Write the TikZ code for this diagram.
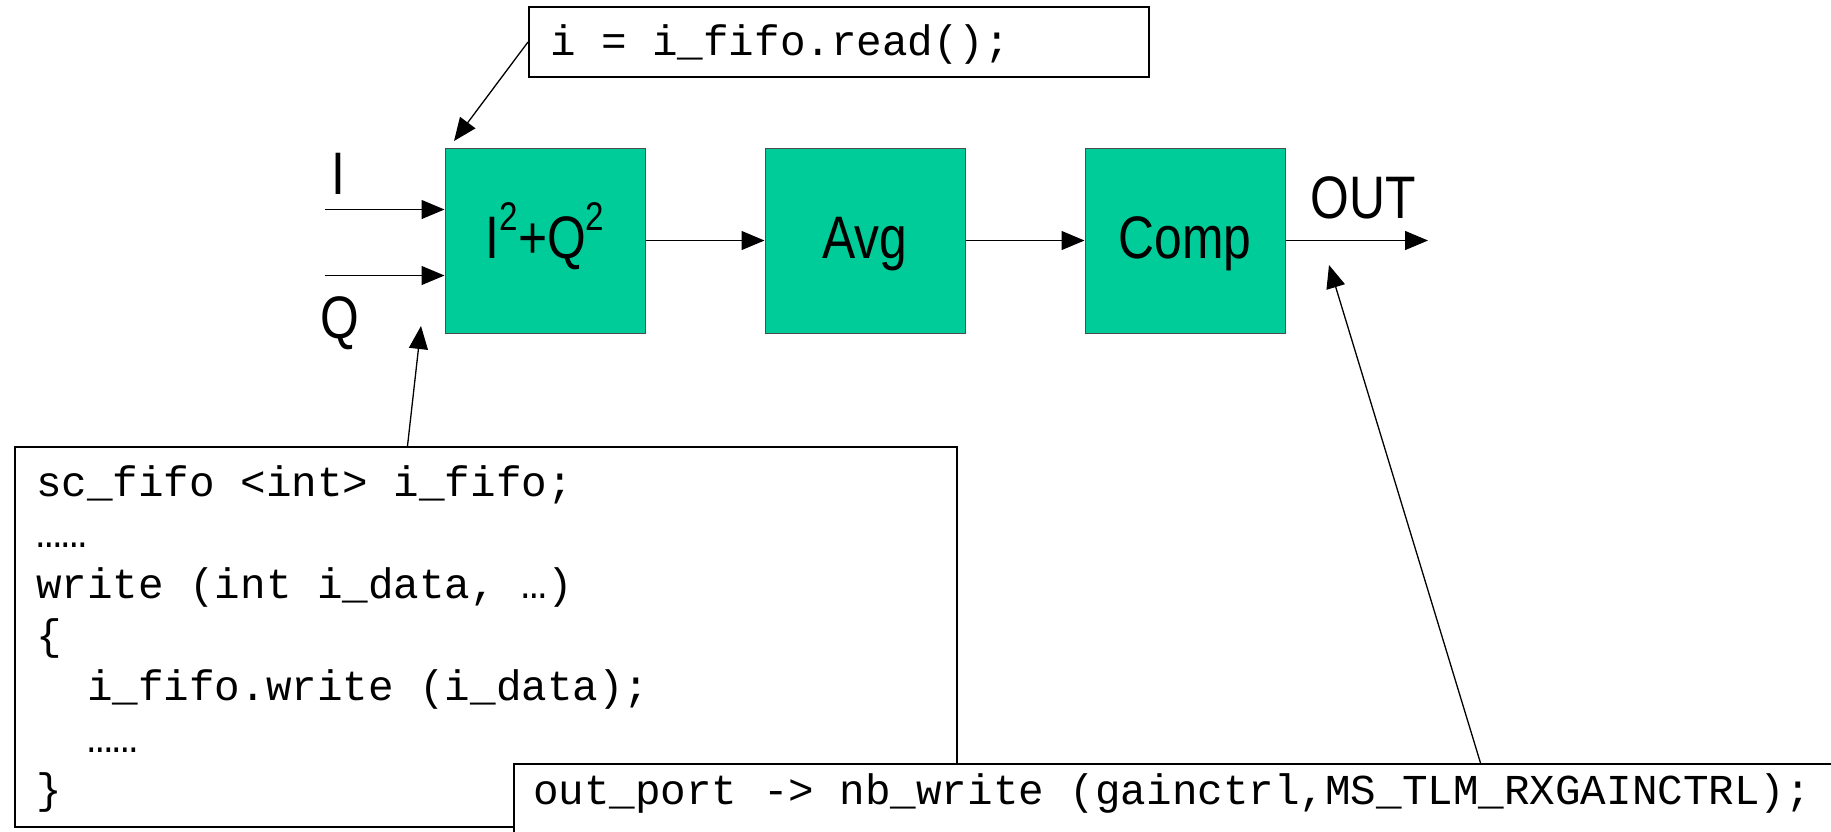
\documentclass[tikz,border=0pt]{standalone}
\usepackage{fontspec}
\setmainfont{Liberation Sans}
\newfontfamily\lsans[FakeStretch=0.83]{Liberation Sans}
\newfontfamily\lmono{Liberation Mono}
\usetikzlibrary{arrows.meta}
\definecolor{blkgreen}{RGB}{0,204,153}
\newcommand{\sqsup}{\raisebox{14pt}{\fontsize{20}{20}\selectfont 2}}
\newcommand{\monofont}{\lmono\fontsize{21.3}{25.6}\selectfont
  \fontdimen2\font=12.78pt\fontdimen3\font=0pt\fontdimen4\font=0pt\fontdimen7\font=0pt}
\newcommand{\spc}{\hspace*{12.78pt}}
\begin{document}
\begin{tikzpicture}[x=0.5pt,y=-0.5pt,
  arr/.style={-{Triangle[length=11.5pt,width=9.5pt]}, line width=0.65pt},
  blk/.style={draw=black!70, line width=0.5pt, fill=blkgreen, minimum width=100pt,
    minimum height=92.5pt, inner sep=0pt, font=\lsans\fontsize{30}{36}\selectfont,
    text height=21.5pt, text depth=4pt},
  codebox/.style={draw, line width=1pt, fill=white, inner ysep=0pt, inner xsep=10.5pt,
    align=left, font=\monofont},
  lbl/.style={font=\lsans\fontsize{30}{36}\selectfont, inner sep=0pt, anchor=base west}]
\useasboundingbox (0,0) rectangle (1831,831);

% blocks
\node[blk] (b1) at (545,240.5) {I\sqsup+Q\sqsup};
\node[blk] (b2) at (865,240.5) {Avg};
\node[blk] (b3) at (1185,240.5) {Comp};

% labels
\node[lbl] (lI) at (331,194) {I};
\node[lbl] (lQ) at (320,338) {Q};
\node[lbl] (lOut) at (1310,218) {OUT};

% code boxes
\node[codebox, minimum width=310pt, minimum height=35pt, text width=289pt,
  text height=17pt, text depth=4pt] (rd) at (839,42) {i\spc=\spc i\_fifo.read();};
\node[codebox, anchor=north west, minimum width=471pt, minimum height=190pt,
  text width=450pt, text height=14pt, text depth=155pt] (codeL) at (14,446)
  {sc\_fifo\spc<int>\spc i\_fifo;\\
   ……\\
   write\spc(int\spc i\_data,\spc…)\\
   \{\\
   \spc\spc i\_fifo.write\spc(i\_data);\\
   \spc\spc……\\
   \}};
\node[codebox, anchor=north west, minimum width=700pt, minimum height=40pt,
  inner xsep=9.5pt, text width=681pt, text height=10pt, text depth=9.5pt] (codeR) at (513,763)
  {out\_port\spc->\spc nb\_write\spc(gainctrl,MS\_TLM\_RXGAINCTRL);};

% free ends
\coordinate (iin) at (325,209.5);
\coordinate (qin) at (325,275.5);
\coordinate (outp) at (1428,240.5);
\coordinate (t1) at (454,141);
\coordinate (cL) at (407.5,0);
\coordinate (t2) at (421,326);
\coordinate (cR) at (1480.5,0);
\coordinate (t3) at (1329,265);

% connectors
\draw[arr] (iin) -- (iin -| b1.west);
\draw[arr] (qin) -- (qin -| b1.west);
\draw[arr] (b1.east) -- (b2.west);
\draw[arr] (b2.east) -- (b3.west);
\draw[arr] (b3.east) -- (outp);
\draw[arr] (rd.west) -- (t1);
\draw[arr] (codeL.north -| cL) -- (t2);
\draw[arr] (codeR.north -| cR) -- (t3);
\end{tikzpicture}
\end{document}
